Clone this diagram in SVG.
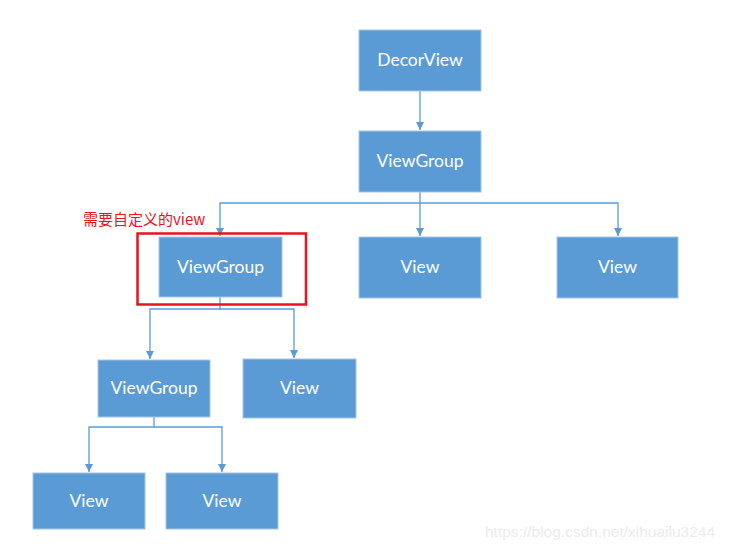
<svg xmlns="http://www.w3.org/2000/svg" width="731" height="550" viewBox="0 0 731 550">
<style>
.box{fill:#5b9bd5;stroke:#a9c4e4;stroke-width:1}
.lbl{fill:#ffffff;font-family:Lato,"Open Sans",sans-serif;font-size:17.5px;text-anchor:middle;dominant-baseline:central}
.conn{fill:none;stroke:#5b9bd5;stroke-width:1.3}
</style>
<defs>
<marker id="arr" viewBox="0 0 10 10" refX="10" refY="5" markerWidth="8" markerHeight="8" markerUnits="userSpaceOnUse" orient="auto">
<path d="M0,0 L10,5 L0,10 z" fill="#5b9bd5"/>
</marker>
</defs>
<rect width="731" height="550" fill="#ffffff"/>
<g id="connectors">
<path class="conn" d="M420,91 V130" marker-end="url(#arr)"/>
<path class="conn" d="M420,192 V203 H220 V236" marker-end="url(#arr)"/>
<path class="conn" d="M420,203 V236" marker-end="url(#arr)"/>
<path class="conn" d="M420,203 H618 V236" marker-end="url(#arr)"/>
<path class="conn" d="M220,297 V309 H150 V359" marker-end="url(#arr)"/>
<path class="conn" d="M220,309 H294 V358" marker-end="url(#arr)"/>
<path class="conn" d="M154,417 V427 H89 V472" marker-end="url(#arr)"/>
<path class="conn" d="M154,427 H222 V472" marker-end="url(#arr)"/>
</g>
<g id="decorview"><rect class="box" x="359" y="30" width="122" height="61"/><text class="lbl" x="420" y="59.5">DecorView</text></g>
<g id="viewgroup1"><rect class="box" x="359" y="131" width="122" height="61"/><text class="lbl" x="420" y="160.5">ViewGroup</text></g>
<g id="viewgroup2"><rect class="box" x="159" y="237" width="123" height="60"/><text class="lbl" x="220.5" y="266">ViewGroup</text></g>
<g id="view1"><rect class="box" x="359" y="237" width="122" height="61"/><text class="lbl" x="420" y="266.5">View</text></g>
<g id="view2"><rect class="box" x="557" y="237" width="121" height="61"/><text class="lbl" x="617.5" y="266.5">View</text></g>
<g id="highlight">
<rect x="137.5" y="233.5" width="168.5" height="71" fill="none" stroke="#e8141c" stroke-width="2.5"/>
<text x="83" y="225" fill="#e8141c" font-family="'Noto Sans CJK SC',sans-serif" font-size="15">需要自定义的view</text>
</g>
<g id="viewgroup3"><rect class="box" x="98" y="360" width="112" height="57"/><text class="lbl" x="154" y="387.5">ViewGroup</text></g>
<g id="view3"><rect class="box" x="243" y="359" width="113" height="59"/><text class="lbl" x="299.5" y="387.5">View</text></g>
<g id="view4"><rect class="box" x="33" y="473" width="112" height="56"/><text class="lbl" x="89" y="500">View</text></g>
<g id="view5"><rect class="box" x="166" y="473" width="112" height="56"/><text class="lbl" x="222" y="500">View</text></g>
<text x="485" y="537" fill="#ececec" font-family="'Liberation Sans',sans-serif" font-size="15.5">https://blog.csdn.net/xihuailu3244</text>
</svg>
